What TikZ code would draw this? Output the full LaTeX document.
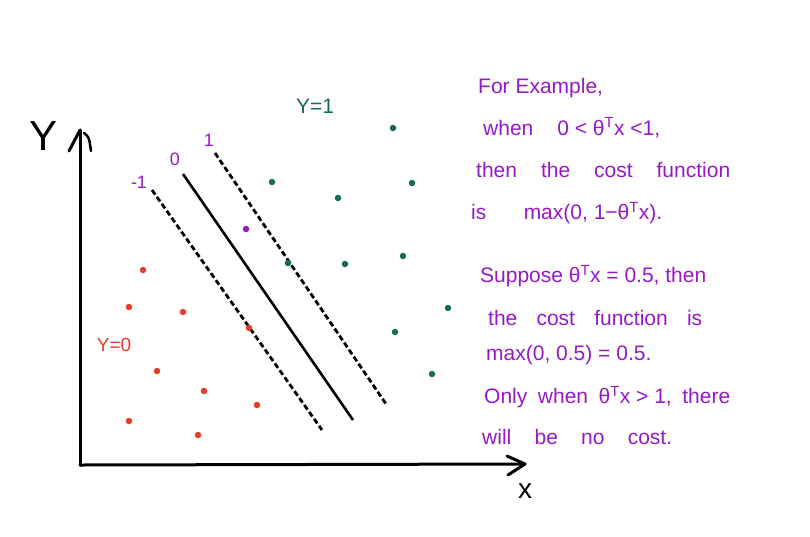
\documentclass[tikz,border=0pt]{standalone}
\usepackage{fontspec}
\setmainfont{Liberation Sans}
\definecolor{hpurple}{RGB}{150,25,200}
\definecolor{hgreen}{RGB}{20,110,70}
\definecolor{hred}{RGB}{230,60,40}
\newcommand{\tT}{θ\textsuperscript{T}}
\begin{document}
\begin{tikzpicture}[x=1pt,y=-1pt,
  axis/.style={line width=3pt,line cap=round,line join=round},
  bound/.style={line width=2.6pt},
  margin/.style={line width=2.8pt,dash pattern=on 5.5pt off 3pt},
  gdot/.style={circle,fill=hgreen,inner sep=0pt,minimum size=6.5pt},
  rdot/.style={circle,fill=hred,inner sep=0pt,minimum size=6.5pt},
  pdot/.style={circle,fill=hpurple,inner sep=0pt,minimum size=6.5pt},
  note/.style={anchor=west,text=hpurple,font=\fontsize{21}{23}\selectfont,inner sep=0pt},
  lab/.style={text=hpurple,font=\fontsize{18}{19}\selectfont,inner sep=0pt}]
\useasboundingbox (0,0) rectangle (810,536);
\fill[white] (0,0) rectangle (810,536);
% axes
\coordinate (O) at (80,465);
\coordinate (ytop) at (80,130);
\coordinate (xend) at (525,464);
\draw[axis] (O) -- (ytop);
\draw[axis] (O) -- (xend);
\draw[axis] (69,151) -- (ytop);
\draw[line width=2.5pt,line cap=round] (84,133) .. controls (89,137) .. (91,151);
\draw[axis] (507,456) -- (xend) -- (508,475);
\node[font=\fontsize{42}{42}\selectfont,inner sep=0pt] (Ylab) at (44,136) {Y};
\node[font=\fontsize{28}{28}\selectfont,inner sep=0pt] (xlab) at (525,491) {x};
% boundary lines
\coordinate (m1a) at (152,190); \coordinate (m1b) at (322,430);
\coordinate (z0a) at (183,174); \coordinate (z0b) at (353,420);
\coordinate (p1a) at (215,153); \coordinate (p1b) at (386,404);
\draw[margin] (m1a) -- (m1b);
\draw[bound] (z0a) -- (z0b);
\draw[margin] (p1a) -- (p1b);
\node[lab] (lm1) at (139,182) {-1};
\node[lab] (l0) at (175,159) {0};
\node[lab] (l1) at (209,140) {1};
% class labels
\node[text=hgreen,font=\fontsize{21}{21}\selectfont,inner sep=0pt] (y1) at (315,106) {Y=1};
\node[text=hred,font=\fontsize{19}{19}\selectfont,inner sep=0pt] (y0) at (114,345) {Y=0};
% green points
\foreach \p [count=\i] in {(393,128),(272,182),(412,183),(338,198),(288,263),(345,264),(403,256),(448,308),(395,332),(432,374)}
  \node[gdot] (g\i) at \p {};
% red points
\foreach \p [count=\i] in {(143,270),(129,307),(183,312),(249,328),(157,371),(204,391),(257,405),(129,421),(198,435)}
  \node[rdot] (r\i) at \p {};
\node[pdot] (pp) at (246,229) {};
% notes
\node[note] (t1) at (478,88) {For Example,};
\node[note] (t2) at (483,128) {\hbox to 177pt{when\hfill 0 < \tT x <1,}};
\node[note] (t3) at (476,170) {\hbox to 254pt{then\hfill the\hfill cost\hfill function}};
\node[note] (t4) at (471,213) {\hbox to 191pt{is\hfill max(0, 1−\tT x).}};
\node[note] (t5) at (480,276) {Suppose \tT x = 0.5, then};
\node[note] (t6) at (488,318) {\hbox to 214pt{the\hfill cost\hfill function\hfill is}};
\node[note] (t7) at (486,355) {max(0, 0.5) = 0.5.};
\node[note] (t8) at (484,397) {\hbox to 246pt{Only\hfill when\hfill \tT x > 1,\hfill there}};
\node[note] (t9) at (482,437) {\hbox to 190pt{will\hfill be\hfill no\hfill cost.}};
\end{tikzpicture}
\end{document}
